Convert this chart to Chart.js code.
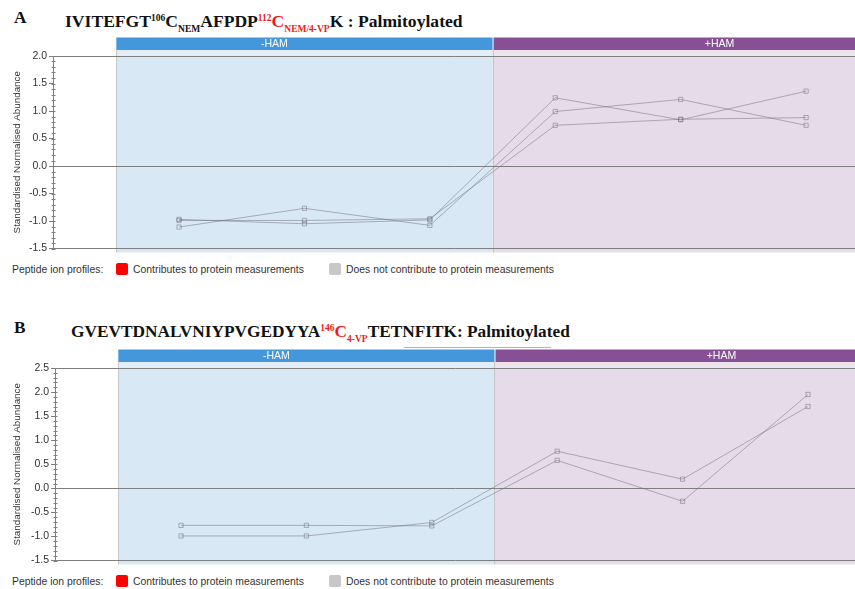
<!DOCTYPE html>
<html>
<head>
<meta charset="utf-8">
<script src="https://cdn.jsdelivr.net/npm/chart.js@4/dist/chart.umd.min.js"></script>
<style>
  html, body { margin: 0; padding: 0; background: #fff; width: 855px; height: 589px; overflow: hidden; position: relative; }
  .title { position: absolute; font-family: "Liberation Serif", "Times New Roman", serif; font-weight: bold; font-size: 17.3px; line-height: 20px; color: #111; white-space: nowrap; }
  .titleA { font-size: 17.6px; }
  .sup { font-size: 9.5px; vertical-align: 6px; }
  .sub { font-size: 9.5px; vertical-align: -5px; }
  .red { color: #ee1c1c; }
  .legend { position: absolute; font-family: "Liberation Sans", Arial, sans-serif; font-size: 10.4px; line-height: 13px; color: #333; white-space: nowrap; }
  .sw { position: absolute; width: 12px; height: 12px; border-radius: 2px; }
  .rule { position: absolute; height: 1px; background: #b4b4b4; }
  canvas { position: absolute; left: 0; }
</style>
</head>
<body>
<div class="title" style="left:14px;top:8px">A</div>
<div class="title titleA" style="left:65px;top:8px">IVITEFGT<span class="sup">106</span>C<span class="sub">NEM</span>AFPDP<span class="sup red">112</span><span class="red">C</span><span class="sub red">NEM/4-VP</span>K : Palmitoylated</div>
<canvas id="chartA" width="855" height="232" style="top:30px"></canvas>
<div class="legend" style="left:12px;top:263px">Peptide ion profiles:</div>
<div class="sw" style="left:116px;top:263px;background:#ff0000"></div>
<div class="legend" style="left:133px;top:263px">Contributes to protein measurements</div>
<div class="sw" style="left:329px;top:263px;background:#c8c8c8"></div>
<div class="legend" style="left:346px;top:263px">Does not contribute to protein measurements</div>

<div class="title" style="left:14px;top:318px">B</div>
<div class="title" style="left:71px;top:318px">GVEVTDNALVNIYPVGEDYYA<span class="sup red">146</span><span class="red">C</span><span class="sub red">4-VP</span>TETNFITK: Palmitoylated</div>
<div class="rule" style="left:404px;top:347px;width:147px"></div>
<canvas id="chartB" width="855" height="232" style="top:342px"></canvas>
<div class="legend" style="left:12px;top:575px">Peptide ion profiles:</div>
<div class="sw" style="left:116px;top:575px;background:#ff0000"></div>
<div class="legend" style="left:133px;top:575px">Contributes to protein measurements</div>
<div class="sw" style="left:329px;top:575px;background:#c8c8c8"></div>
<div class="legend" style="left:346px;top:575px">Does not contribute to protein measurements</div>

<script>
// Six runs: three without HAM treatment, three with it
const sampleIndex = [0, 1, 2, 3, 4, 5];
const conditionNames = ['-HAM', '+HAM'];

// Peptide A: IVITEFGT(106)C AFPDP(112)C K, standardised abundance per ion
const peptideA_ion1 = [-1.11, -0.77, -1.08, 0.99, 1.21, 0.74];
const peptideA_ion2 = [-0.97, -1.05, -0.98, 1.24, 0.84, 1.36];
const peptideA_ion3 = [-0.99, -0.99, -0.96, 0.74, 0.85, 0.88];

// Peptide B: GVEVTDNALVNIYPVGEDYYA(146)C TETNFITK
const peptideB_ion1 = [-0.77, -0.77, -0.78, 0.58, -0.27, 1.95];
const peptideB_ion2 = [-0.99, -0.99, -0.71, 0.77, 0.19, 1.70];

// Y axis ranges and tick step
const yRangeA = [-1.5, 2.0];
const yRangeB = [-1.5, 2.5];
const yStep = 0.5;
const yMinorStep = 0.1;

const lineColor = 'rgba(110,110,125,0.5)';
const axisColor = '#7f7f7f';
const sansFont = '"Liberation Sans", Arial, sans-serif';

// Shaded condition blocks with their header bars
const conditionBands = {
  id: 'conditionBands',
  beforeDraw(chart, args, opts) {
    const { ctx, chartArea: { top, bottom, right }, scales: { x } } = chart;
    const x0 = x.getPixelForValue(-0.5);
    const x1 = x.getPixelForValue(2.5);
    ctx.save();
    // plot shading
    ctx.fillStyle = '#d9e8f5';
    ctx.fillRect(x0, top - 6, x1 - x0, bottom + 4 - top + 6);
    ctx.fillStyle = '#e6dbe9';
    ctx.fillRect(x1, top - 6, right - x1, bottom + 4 - top + 6);
    // lighter strip under the header
    ctx.fillStyle = '#e3eef9';
    ctx.fillRect(x0, top - 6, x1 - x0, 6);
    ctx.fillStyle = '#ede4ee';
    ctx.fillRect(x1, top - 6, right - x1, 6);
    // band borders
    ctx.strokeStyle = 'rgba(190,190,190,0.8)';
    ctx.lineWidth = 1;
    ctx.beginPath();
    ctx.moveTo(Math.round(x0) + 0.5, top - 6);
    ctx.lineTo(Math.round(x0) + 0.5, bottom + 4);
    ctx.moveTo(Math.round(x1) + 0.5, top - 6);
    ctx.lineTo(Math.round(x1) + 0.5, bottom + 4);
    ctx.stroke();
    // header bars
    const hTop = top - 18.5, hH = 12.5;
    ctx.fillStyle = '#4497da';
    ctx.fillRect(x0, hTop, x1 - x0, hH);
    ctx.fillStyle = '#874f94';
    ctx.fillRect(x1 + 1, hTop, right - x1 - 1, hH);
    ctx.fillStyle = '#ffffff';
    ctx.font = '10.5px ' + sansFont;
    ctx.textAlign = 'center';
    ctx.textBaseline = 'middle';
    ctx.fillText(conditionNames[0], x.getPixelForValue(opts.labelAt[0]), hTop + hH / 2 + 0.5);
    ctx.fillText(conditionNames[1], x.getPixelForValue(opts.labelAt[1]), hTop + hH / 2 + 0.5);
    ctx.restore();
  },
  afterDraw(chart) {
    // minor tick marks along the value axis
    const { ctx, scales: { y } } = chart;
    const ax = Math.round(y.right) + 0.5;
    ctx.save();
    ctx.strokeStyle = axisColor;
    ctx.lineWidth = 1;
    ctx.beginPath();
    const n0 = Math.round(y.min / yMinorStep), n1 = Math.round(y.max / yMinorStep);
    for (let i = n0; i <= n1; i++) {
      const py = Math.round(y.getPixelForValue(i * yMinorStep)) + 0.5;
      ctx.moveTo(ax - 2, py);
      ctx.lineTo(ax + 2, py);
    }
    ctx.stroke();
    ctx.restore();
  }
};

function ionDataset(values) {
  return {
    data: sampleIndex.map((s, i) => ({ x: s, y: values[i] })),
    borderColor: lineColor,
    borderWidth: 1,
    backgroundColor: 'rgba(0,0,0,0)',
    pointStyle: 'rect',
    pointRadius: 3,
    pointBorderWidth: 1,
    pointBorderColor: lineColor,
    pointBackgroundColor: 'rgba(0,0,0,0)',
    tension: 0
  };
}

function makeChart(id, series, yRange, axisWidth, xRange, labelAt) {
  const [yMin, yMax] = yRange;
  const isRef = v => Math.abs(v - yMin) < 1e-6 || Math.abs(v) < 1e-6 || Math.abs(v - yMax) < 1e-6;
  return new Chart(document.getElementById(id), {
    type: 'line',
    data: { datasets: series.map(ionDataset) },
    options: {
      responsive: false,
      animation: false,
      devicePixelRatio: 1,
      layout: { autoPadding: false, padding: { top: 26, bottom: 13.5, left: 0, right: 0 } },
      plugins: { legend: { display: false }, tooltip: { enabled: false }, conditionBands: { labelAt } },
      scales: {
        x: { type: 'linear', min: xRange[0], max: xRange[1], display: false },
        y: {
          min: yMin, max: yMax,
          afterFit(scale) { scale.width = axisWidth; },
          ticks: {
            stepSize: yStep,
            padding: 2,
            color: '#333',
            font: { family: sansFont, size: 10.5 },
            callback: v => v.toFixed(1)
          },
          grid: {
            color: c => (c.tick && isRef(c.tick.value)) ? axisColor : 'rgba(0,0,0,0)',
            tickColor: axisColor,
            tickLength: 4,
            lineWidth: 1
          },
          border: { display: true, color: axisColor, width: 1 },
          title: {
            display: true,
            text: 'Standardised Normalised Abundance',
            color: '#333',
            font: { family: sansFont, size: 9.8 },
            padding: { top: 11, bottom: 0 }
          }
        }
      }
    },
    plugins: [conditionBands]
  });
}

makeChart('chartA', [peptideA_ion1, peptideA_ion2, peptideA_ion3], yRangeA, 53, [-1.005, 5.39], [0.76, 4.31]);
makeChart('chartB', [peptideB_ion1, peptideB_ion2], yRangeB, 55, [-1.005, 5.375], [0.76, 4.31]);
</script>
</body>
</html>
